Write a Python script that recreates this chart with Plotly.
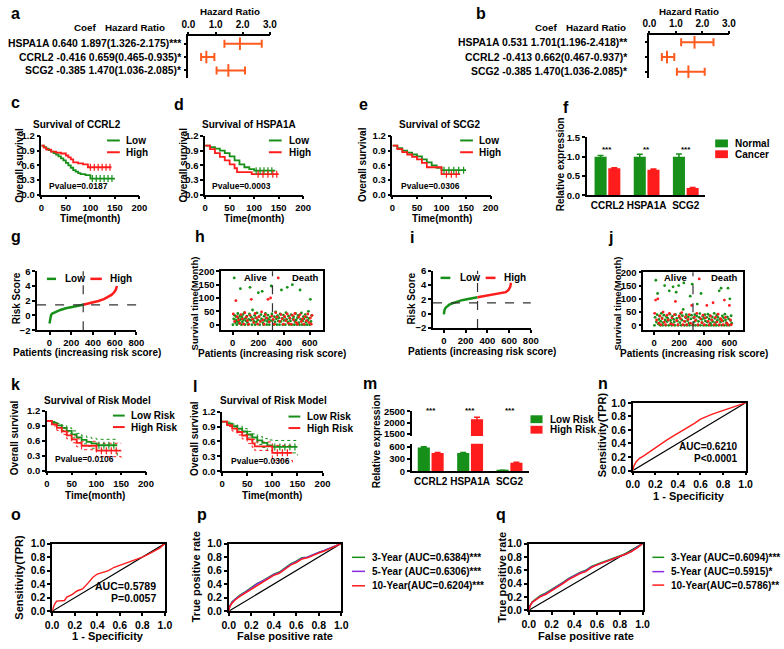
import plotly.graph_objects as go

W, H = 784, 649
FONT = "Liberation Sans, Arial, Helvetica, sans-serif"
GREEN = "#17901a"
RED = "#ff1c1c"
ORANGE = "#ff5b1f"
PURPLE = "#8a2be2"

# ---------------- data ----------------
forest_rows = [3, 2, 1]
a_hr = [1.897, 0.659, 1.470]
a_lo = [1.326, 0.465, 1.036]
a_hi = [2.70, 0.955, 2.085]
a_text = ["HSPA1A 0.640 1.897(1.326-2.175)***", "CCRL2 -0.416 0.659(0.465-0.935)*", "SCG2 -0.385 1.470(1.036-2.085)*"]
b_hr = [1.701, 0.662, 1.470]
b_lo = [1.196, 0.467, 1.036]
b_hi = [2.418, 0.937, 2.085]
b_text = ["HSPA1A 0.531 1.701(1.196-2.418)**", "CCRL2 -0.413 0.662(0.467-0.937)*", "SCG2 -0.385 1.470(1.036-2.085)*"]
hr_ticks = [0, 1, 2, 3]

km_xticks = [0, 50, 100, 150, 200]
km_yticks = [0, 0.3, 0.6, 0.9, 1.2]

c_low_t = [0, 5, 10, 15, 20, 25, 30, 35, 40, 45, 50, 55, 60, 65, 70, 75, 80, 90, 100, 150]
c_low_s = [1.0, 0.97, 0.94, 0.91, 0.88, 0.85, 0.82, 0.78, 0.74, 0.70, 0.65, 0.60, 0.55, 0.50, 0.47, 0.44, 0.42, 0.40, 0.33, 0.33]
c_high_t = [0, 5, 10, 20, 30, 40, 50, 55, 60, 65, 75, 85, 95, 143]
c_high_s = [1.0, 0.96, 0.92, 0.88, 0.86, 0.84, 0.80, 0.76, 0.72, 0.66, 0.64, 0.62, 0.56, 0.56]
c_low_cens = [(104, 0.33), (112, 0.33), (120, 0.33), (128, 0.33), (136, 0.33), (144, 0.33)]
c_high_cens = [(100, 0.56), (108, 0.56), (116, 0.56), (124, 0.56), (132, 0.56), (140, 0.56)]

d_low_t = [0, 10, 20, 30, 40, 50, 60, 70, 80, 90, 100, 143]
d_low_s = [1.0, 0.97, 0.94, 0.90, 0.85, 0.78, 0.70, 0.62, 0.56, 0.52, 0.49, 0.49]
d_high_t = [0, 10, 20, 30, 40, 50, 60, 65, 80, 95, 150]
d_high_s = [1.0, 0.93, 0.85, 0.77, 0.70, 0.62, 0.54, 0.46, 0.46, 0.42, 0.42]
d_low_cens = [(104, 0.49), (112, 0.49), (120, 0.49), (128, 0.49), (136, 0.49)]
d_high_cens = [(108, 0.42), (118, 0.42), (128, 0.42), (138, 0.42), (146, 0.42)]

e_low_t = [0, 10, 20, 30, 40, 50, 60, 70, 80, 90, 100, 150]
e_low_s = [1.0, 0.95, 0.90, 0.86, 0.82, 0.78, 0.72, 0.66, 0.60, 0.55, 0.50, 0.50]
e_high_t = [0, 10, 20, 30, 40, 50, 60, 70, 100, 138]
e_high_s = [1.0, 0.93, 0.87, 0.82, 0.77, 0.72, 0.65, 0.56, 0.42, 0.42]
e_low_cens = [(105, 0.5), (115, 0.5), (125, 0.5), (135, 0.5), (145, 0.5)]
e_high_cens = [(110, 0.42), (120, 0.42), (130, 0.42)]

expr_genes = ["CCRL2", "HSPA1A", "SCG2"]
f_normal = [1.0, 1.0, 1.0]
f_normal_err = [0.03, 0.06, 0.07]
f_cancer = [0.70, 0.66, 0.19]
f_cancer_err = [0.015, 0.02, 0.015]
f_stars = ["***", "**", "***"]

g_low = [(0, -1.1), (2, -0.8), (5, -0.4), (9, -0.1), (15, 0.1), (25, 0.25), (50, 0.45), (100, 0.75),
         (150, 0.97), (200, 1.13), (250, 1.28), (310, 1.45)]
g_high = [(310, 1.45), (350, 1.58), (400, 1.76), (450, 1.97), (500, 2.22), (540, 2.5), (570, 2.8),
          (595, 3.15), (610, 3.5), (620, 4.0)]
g_cut_x, g_cut_y = 310, 1.45
i_low = [(0, -0.1), (2, 0.2), (6, 0.5), (15, 0.8), (30, 1.05), (50, 1.25), (80, 1.45), (120, 1.68),
         (160, 1.85), (200, 1.98), (250, 2.12), (310, 2.3)]
i_high = [(310, 2.3), (350, 2.4), (400, 2.5), (450, 2.6), (500, 2.72), (540, 2.85), (570, 3.0),
          (595, 3.3), (610, 3.7), (618, 4.3)]
i_cut_x, i_cut_y = 310, 1.5
risk_xticks = [0, 200, 400, 600, 800]
risk_yticks = [-2, 0, 2, 4, 6]

h_alive = [(2,0),(8,22),(12,175),(15,35),(20,8),(24,18),(28,30),(32,0),(36,12),(40,42),(44,25),(48,5),(52,15),
           (56,33),(60,135),(64,20),(68,0),(72,28),(76,10),(80,38),(85,18),(90,45),(95,0),(100,24),(105,14),
           (110,32),(115,8),(120,0),(125,20),(130,40),(135,140),(140,16),(145,28),(150,0),(155,55),(160,22),
           (165,12),(170,35),(175,0),(180,26),(185,10),(190,44),(195,18),(200,120),(205,30),(210,0),(215,14),
           (220,38),(225,22),(230,125),(235,8),(240,0),(245,32),(250,16),(255,42),(260,24),(265,0),(270,12),
           (275,36),(280,20),(285,0),(290,28),(296,15),(300,145),(305,40),(315,18),(320,0),(325,30),(330,10),
           (335,48),(340,22),(345,0),(350,34),(355,14),(360,26),(365,0),(370,40),(375,12),(380,130),(385,24),
           (390,0),(395,36),(400,16),(405,28),(410,0),(415,45),(420,20),(425,140),(430,10),(435,32),(440,0),
           (445,24),(450,14),(455,38),(460,0),(465,150),(470,22),(475,30),(480,0),(485,12),(490,42),(495,18),
           (500,0),(505,26),(510,35),(515,8),(520,0),(525,130),(530,20),(535,44),(540,0),(545,14),(550,30),
           (555,22),(560,0),(565,38),(570,10),(575,28),(580,0),(585,16),(590,50),(595,24),(600,0),(605,95),
           (610,12),(615,34)]
h_death = [(5,40),(15,12),(25,90),(35,30),(45,18),(55,5),(65,38),(75,22),(85,2),(95,45),(105,28),(115,15),
           (125,2),(135,35),(145,95),(155,20),(165,8),(175,42),(185,25),(195,2),(205,30),(215,12),(225,48),
           (235,18),(245,2),(255,38),(265,25),(275,95),(285,10),(295,100),(305,32),(315,20),(325,2),(335,45),
           (345,28),(355,175),(365,12),(375,38),(385,22),(395,2),(405,30),(415,15),(425,40),(435,5),(445,25),
           (455,2),(465,35),(475,18),(485,42),(495,8),(505,2),(515,28),(525,38),(535,12),(545,22),(555,2),
           (565,30),(575,15),(585,40),(595,8),(605,25),(612,2),(618,35)]
j_alive = [(3,0),(8,30),(14,170),(18,12),(24,40),(28,120),(33,5),(38,22),(43,35),(48,0),(53,15),(58,45),(63,28),
           (68,0),(73,10),(78,38),(84,150),(88,20),(93,0),(98,32),(104,14),(110,26),(116,0),(121,130),(126,42),
           (131,18),(136,8),(141,0),(146,34),(151,145),(156,22),(161,12),(166,0),(171,40),(176,125),(181,26),
           (186,16),(191,0),(196,150),(201,30),(206,10),(211,44),(216,0),(221,20),(226,36),(232,60),(237,160),
           (242,0),(247,14),(252,28),(257,40),(262,0),(268,18),(273,32),(278,8),(283,0),(288,110),(293,24),
           (298,38),(304,155),(308,0),(314,28),(319,12),(324,40),(329,0),(334,20),(339,35),(344,80),(349,0),
           (354,15),(359,30),(364,44),(369,0),(374,120),(379,22),(384,10),(389,34),(394,0),(399,26),(404,40),
           (409,16),(414,0),(419,30),(424,12),(429,42),(434,0),(439,24),(444,36),(449,8),(454,0),(459,20),
           (464,32),(469,14),(474,0),(479,45),(484,26),(489,10),(494,0),(499,38),(504,18),(509,30),(514,0),
           (519,130),(524,22),(529,12),(534,140),(539,0),(544,35),(549,16),(554,28),(559,0),(564,42),(569,20),
           (574,10),(579,0),(584,32),(589,140),(594,24),(599,0),(604,100),(609,18),(614,36),(618,8)]
j_death = [(5,45),(12,95),(20,20),(30,100),(38,8),(46,35),(55,2),(64,25),(72,50),(82,12),(92,2),(102,38),
           (112,20),(122,45),(132,5),(142,28),(152,2),(162,40),(170,90),(180,18),(190,2),(200,35),(210,25),
           (220,48),(230,2),(240,15),(250,32),(260,2),(270,22),(280,40),(290,8),(300,75),(310,2),(320,30),
           (330,18),(340,45),(350,2),(360,175),(370,25),(380,10),(390,38),(400,2),(410,28),(420,75),(430,15),
           (440,2),(450,35),(460,20),(470,85),(480,2),(490,30),(500,12),(510,42),(520,2),(530,25),(540,18),
           (550,2),(560,95),(570,30),(580,8),(590,2),(600,75),(608,20),(615,2)]
surv_yticks = [0, 50, 100, 150, 200]
surv_xticks = [0, 200, 400, 600]

k_low_t = [0, 10, 20, 30, 40, 50, 60, 70, 80, 90, 100, 142]
k_low_s = [1.0, 0.96, 0.91, 0.86, 0.80, 0.73, 0.67, 0.62, 0.58, 0.55, 0.51, 0.51]
k_low_up = [1.0, 0.99, 0.95, 0.91, 0.86, 0.80, 0.75, 0.70, 0.67, 0.65, 0.63, 0.65]
k_low_dn = [1.0, 0.93, 0.87, 0.81, 0.74, 0.66, 0.59, 0.54, 0.49, 0.45, 0.41, 0.30]
k_high_t = [0, 10, 20, 30, 40, 50, 60, 70, 100, 150]
k_high_s = [1.0, 0.93, 0.86, 0.79, 0.71, 0.63, 0.56, 0.50, 0.40, 0.40]
k_high_up = [1.0, 0.96, 0.91, 0.85, 0.78, 0.70, 0.64, 0.59, 0.55, 0.55]
k_high_dn = [1.0, 0.90, 0.81, 0.73, 0.64, 0.56, 0.48, 0.42, 0.28, 0.22]
k_low_cens = [(105, 0.51), (115, 0.51), (125, 0.51), (135, 0.51)]
k_high_cens = [(110, 0.40), (120, 0.40), (130, 0.40), (140, 0.40)]

l_low_t = [0, 10, 20, 30, 40, 50, 60, 70, 80, 90, 100, 150]
l_low_s = [1.0, 0.96, 0.91, 0.86, 0.80, 0.74, 0.68, 0.62, 0.57, 0.52, 0.49, 0.49]
l_low_up = [1.0, 0.99, 0.95, 0.91, 0.86, 0.80, 0.75, 0.70, 0.66, 0.63, 0.62, 0.62]
l_low_dn = [1.0, 0.93, 0.87, 0.81, 0.74, 0.67, 0.61, 0.54, 0.48, 0.42, 0.37, 0.32]
l_high_t = [0, 10, 20, 30, 40, 50, 60, 65, 100, 140]
l_high_s = [1.0, 0.93, 0.86, 0.79, 0.72, 0.64, 0.56, 0.50, 0.37, 0.37]
l_high_up = [1.0, 0.96, 0.91, 0.85, 0.79, 0.71, 0.64, 0.59, 0.52, 0.52]
l_high_dn = [1.0, 0.90, 0.81, 0.73, 0.65, 0.56, 0.48, 0.42, 0.22, 0.15]
l_low_cens = [(105, 0.49), (115, 0.49), (125, 0.49), (135, 0.49), (145, 0.49)]
l_high_cens = [(110, 0.37), (120, 0.37), (130, 0.37)]

m_low = [590, 450, 20]
m_low_err = [15, 15, 5]
m_high = [450, 2150, 210]
m_high_err = [12, 90, 10]
m_stars = ["***", "***", "***"]

roc_ticks = [0, 0.2, 0.4, 0.6, 0.8, 1.0]
n_fpr = [0, 0.01, 0.03, 0.06, 0.1, 0.15, 0.2, 0.25, 0.3, 0.35, 0.4, 0.45, 0.5, 0.55, 0.6, 0.65, 0.7, 0.75, 0.8, 0.85, 0.9, 0.95, 1.0]
n_tpr = [0, 0.07, 0.13, 0.18, 0.22, 0.28, 0.34, 0.4, 0.45, 0.5, 0.55, 0.59, 0.64, 0.7, 0.76, 0.8, 0.83, 0.86, 0.89, 0.91, 0.94, 0.97, 1.0]
o_fpr = [0, 0.02, 0.04, 0.08, 0.11, 0.13, 0.18, 0.22, 0.27, 0.32, 0.36, 0.4, 0.45, 0.5, 0.55, 0.6, 0.65, 0.7, 0.75, 0.8, 0.85, 0.9, 0.95, 1.0]
o_tpr = [0, 0.1, 0.15, 0.16, 0.16, 0.21, 0.25, 0.3, 0.33, 0.42, 0.5, 0.55, 0.57, 0.6, 0.65, 0.68, 0.71, 0.73, 0.77, 0.8, 0.84, 0.88, 0.93, 1.0]
pq_fpr = [0, 0.01, 0.03, 0.06, 0.1, 0.15, 0.2, 0.25, 0.3, 0.35, 0.4, 0.45, 0.5, 0.55, 0.6, 0.65, 0.7, 0.75, 0.8, 0.85, 0.9, 0.95, 1.0]
p3_tpr = [0, 0.08, 0.14, 0.18, 0.24, 0.29, 0.35, 0.41, 0.45, 0.5, 0.55, 0.58, 0.64, 0.70, 0.74, 0.79, 0.80, 0.84, 0.87, 0.90, 0.93, 0.97, 1.0]
p5_tpr = [0, 0.08, 0.13, 0.18, 0.23, 0.28, 0.34, 0.40, 0.44, 0.49, 0.54, 0.57, 0.63, 0.69, 0.73, 0.78, 0.80, 0.84, 0.87, 0.90, 0.93, 0.97, 1.0]
p10_tpr = [0, 0.07, 0.12, 0.17, 0.22, 0.27, 0.33, 0.38, 0.43, 0.48, 0.53, 0.56, 0.62, 0.68, 0.72, 0.77, 0.79, 0.83, 0.86, 0.89, 0.93, 0.96, 1.0]
q3_tpr = [0, 0.07, 0.13, 0.17, 0.22, 0.26, 0.31, 0.36, 0.42, 0.48, 0.53, 0.57, 0.60, 0.66, 0.69, 0.72, 0.75, 0.78, 0.81, 0.85, 0.89, 0.94, 1.0]
q5_tpr = [0, 0.07, 0.12, 0.16, 0.21, 0.25, 0.30, 0.35, 0.41, 0.47, 0.52, 0.56, 0.59, 0.65, 0.68, 0.71, 0.74, 0.77, 0.80, 0.84, 0.88, 0.94, 1.0]
q10_tpr = [0, 0.06, 0.12, 0.16, 0.20, 0.24, 0.29, 0.34, 0.40, 0.46, 0.51, 0.55, 0.58, 0.64, 0.68, 0.71, 0.74, 0.77, 0.80, 0.84, 0.88, 0.93, 1.0]
p_labels = ["3-Year (AUC=0.6384)***", "5-Year (AUC=0.6306)***", "10-Year(AUC=0.6204)***"]
q_labels = ["3-Year (AUC=0.6094)***", "5-Year (AUC=0.5915)*", "10-Year(AUC=0.5786)**"]

# ---------------- helpers ----------------
layout = dict(width=W, height=H, margin=dict(l=0, r=0, t=0, b=0), autosize=False,
              paper_bgcolor="white", plot_bgcolor="white", showlegend=False,
              barmode="group", bargap=0.3, bargroupgap=0.12,
              font=dict(family=FONT, size=10, color="black", weight="bold"))
annotations = []
shapes = []
traces = []


def xd(l, r):
    return [l / W, r / W]


def yd(t, b):
    return [1 - b / H, 1 - t / H]


def setax(n, xdom, ydom, xkw=None, ykw=None, tick=9.5, box=False):
    s = "" if n == 1 else str(n)
    base = dict(showline=True, linecolor="black", linewidth=1.5, ticks="outside", ticklen=3,
                tickwidth=1.5, tickcolor="black", showgrid=False, zeroline=False, mirror=box,
                tickfont=dict(family=FONT, size=tick, color="black", weight="bold"))
    xa = dict(base, domain=xdom, anchor="y" + s)
    xa.update(xkw or {})
    ya = dict(base, domain=ydom, anchor="x" + s)
    ya.update(ykw or {})
    layout["xaxis" + s] = xa
    layout["yaxis" + s] = ya
    return "x" + s, "y" + s


def T(text, x, y, size=10, xa="center", ya="middle", angle=0, **kw):
    d = dict(text=text, x=x / W, y=1 - y / H, xref="paper", yref="paper", xanchor=xa, yanchor=ya,
             textangle=angle, showarrow=False,
             font=dict(family=FONT, size=size, color="black", weight="bold"))
    d.update(kw)
    annotations.append(d)


def legline(x0, x1, y, color, text, tx, size=10, width=2, dash="solid"):
    shapes.append(dict(type="line", xref="paper", yref="paper", x0=x0 / W, x1=x1 / W,
                       y0=1 - y / H, y1=1 - y / H, line=dict(color=color, width=width, dash=dash)))
    T(text, tx, y, size=size, xa="left")


def legbox(x0, x1, y, hgt, color, text, tx, size=10):
    shapes.append(dict(type="rect", xref="paper", yref="paper", x0=x0 / W, x1=x1 / W,
                       y0=1 - (y + hgt / 2) / H, y1=1 - (y - hgt / 2) / H,
                       fillcolor=color, line=dict(width=0)))
    T(text, tx, y, size=size, xa="left")


# ---------------- a / b forest ----------------
def forest(n, xdom, ydom, yrange, hr, lo, hi, texts, text_x):
    xa, ya = setax(n, xdom, ydom, tick=10,
                   xkw=dict(side="top", range=[0, 3], tickvals=hr_ticks, tickformat=".1f"),
                   ykw=dict(range=yrange, tickvals=forest_rows, showticklabels=False))
    traces.append(go.Scatter(x=hr, y=forest_rows, mode="markers", xaxis=xa, yaxis=ya, cliponaxis=False,
                             marker=dict(symbol="line-ns-open", size=9, color=ORANGE,
                                         line=dict(width=2, color=ORANGE)),
                             error_x=dict(type="data", symmetric=False,
                                          array=[h - m for h, m in zip(hi, hr)],
                                          arrayminus=[m - l for m, l in zip(hr, lo)],
                                          color=ORANGE, thickness=2, width=4)))
    for r, t in zip(forest_rows, texts):
        annotations.append(dict(text=t, x=text_x / W, xref="paper", y=r, yref=ya, xanchor="right",
                                yanchor="middle", showarrow=False,
                                font=dict(family=FONT, size=10.4, color="black", weight="bold")))


forest(1, xd(185, 268), yd(31, 73), [0.46, 3.54], a_hr, a_lo, a_hi, a_text, 180)
T("a", 2, 8, size=16, xa="left")
T("Coef", 80, 22, size=9.8)
T("Hazard Ratio", 130, 22, size=9.8)
T("Hazard Ratio", 227, 6, size=9.8)

forest(2, xd(655, 736), yd(30, 73), [0.6, 3.47], b_hr, b_lo, b_hi, b_text, 635)
T("b", 476, 8, size=16, xa="left")
T("Coef", 550, 22, size=9.8)
T("Hazard Ratio", 600, 22, size=9.8)
T("Hazard Ratio", 695, 6, size=9.8)


# ---------------- KM helper ----------------
def km_axes(n, l, r, t, b):
    return setax(n, xd(l, r), yd(t, b),
                 xkw=dict(range=[0, 200], tickvals=km_xticks),
                 ykw=dict(range=[0, 1.2], tickvals=km_yticks, tickformat=".1f"))


def km_line(xa, ya, t, s, color, width=1.8, dash="solid"):
    traces.append(go.Scatter(x=t, y=s, mode="lines", line=dict(color=color, width=width, shape="hv", dash=dash),
                             xaxis=xa, yaxis=ya))


def km_cens(xa, ya, pts, color):
    traces.append(go.Scatter(x=[p[0] for p in pts], y=[p[1] for p in pts], mode="markers", xaxis=xa, yaxis=ya,
                             marker=dict(symbol="line-ns-open", size=5, color=color, line=dict(width=1.2, color=color))))


# c
xa, ya = km_axes(3, 35, 135, 132.3, 192.3)
km_line(xa, ya, c_low_t, c_low_s, GREEN)
km_line(xa, ya, c_high_t, c_high_s, RED)
km_cens(xa, ya, c_low_cens, GREEN)
km_cens(xa, ya, c_high_cens, RED)
T("c", 2, 98, size=16, xa="left")
T("Survival of CCRL2", 71, 121)
legline(102, 115, 137, GREEN, "Low", 119)
legline(102, 115, 149, RED, "High", 119)
T("Pvalue=0.0187", 41, 183, size=8.5, xa="left")
T("Overall survival", 12, 162, angle=-90)
T("Time(month)", 85, 217)
# d
xa, ya = km_axes(4, 202, 302, 132.3, 192.3)
km_line(xa, ya, d_low_t, d_low_s, GREEN)
km_line(xa, ya, d_high_t, d_high_s, RED)
km_cens(xa, ya, d_low_cens, GREEN)
km_cens(xa, ya, d_high_cens, RED)
T("d", 168, 100, size=16, xa="left")
T("Survival of HSPA1A", 247, 121)
legline(267, 280, 137, GREEN, "Low", 285)
legline(267, 280, 149, RED, "High", 285)
T("Pvalue=0.0003", 207, 183, size=8.5, xa="left")
T("Overall survival", 179, 162, angle=-90)
T("Time(month)", 252, 217)
# e
xa, ya = km_axes(5, 393, 493, 132.3, 192.3)
km_line(xa, ya, e_low_t, e_low_s, GREEN)
km_line(xa, ya, e_high_t, e_high_s, RED)
km_cens(xa, ya, e_low_cens, GREEN)
km_cens(xa, ya, e_high_cens, RED)
T("e", 357, 100, size=16, xa="left")
T("Survival of SCG2", 441, 121)
legline(462, 475, 137, GREEN, "Low", 479)
legline(462, 475, 149, RED, "High", 479)
T("Pvalue=0.0306", 400, 183, size=8.5, xa="left")
T("Overall survival", 362, 162, angle=-90)
T("Time(month)", 443, 217)

# ---------------- f bars ----------------
catfont = dict(family=FONT, size=10, color="black", weight="bold")
xa, ya = setax(6, xd(591, 712), yd(133.7, 193),
               xkw=dict(type="category", range=[-0.53, 2.5], ticks="", tickangle=0, tickfont=catfont),
               ykw=dict(range=[0, 1.5], tickvals=[0, 0.5, 1.0, 1.5], tickformat=".1f"))
traces.append(go.Bar(x=expr_genes, y=f_normal, marker=dict(color=GREEN, line=dict(width=0)), xaxis=xa, yaxis=ya,
                     error_y=dict(type="data", array=f_normal_err, color=GREEN, thickness=1.5, width=3)))
traces.append(go.Bar(x=expr_genes, y=f_cancer, marker=dict(color=RED, line=dict(width=0)), xaxis=xa, yaxis=ya,
                     error_y=dict(type="data", array=f_cancer_err, color=RED, thickness=1.5, width=3)))
for g, st in zip(expr_genes, f_stars):
    annotations.append(dict(text=st, x=g, xref=xa, y=1 - 140 / H, yref="paper", showarrow=False,
                            font=dict(family=FONT, size=8, color="black", weight="bold")))
T("f", 565, 103, size=16, xa="left")
T("Relative expression", 564, 161, angle=-90)
legbox(722, 735, 140, 8, GREEN, "Normal", 740)
legbox(722, 735, 151, 8, RED, "Cancer", 740)


# ---------------- g / i risk score ----------------
def risk(n, l, r, t, b, low, high, cx, cy, xr):
    xa, ya = setax(n, xd(l, r), yd(t, b),
                   xkw=dict(range=xr, tickvals=risk_xticks),
                   ykw=dict(range=[-2, 6], tickvals=risk_yticks))
    traces.append(go.Scatter(x=[p[0] for p in low], y=[p[1] for p in low], mode="lines",
                             line=dict(color=GREEN, width=2.5), xaxis=xa, yaxis=ya))
    traces.append(go.Scatter(x=[p[0] for p in high], y=[p[1] for p in high], mode="lines",
                             line=dict(color=RED, width=2.5), xaxis=xa, yaxis=ya))
    shapes.append(dict(type="line", xref=xa + " domain", x0=0, x1=1, yref=ya, y0=cy, y1=cy,
                       line=dict(color="#333", width=1.2, dash="dash")))
    shapes.append(dict(type="line", xref=xa, x0=cx, x1=cx, yref=ya + " domain", y0=0, y1=1,
                       line=dict(color="#333", width=1.2, dash="dash")))


risk(7, 30.7, 132, 270.3, 330.3, g_low, g_high, g_cut_x, g_cut_y, [-114, 800])
T("g", 2, 235, size=16, xa="left")
legline(40.7, 50, 278, GREEN, "Low", 57, width=2.5)
legline(85, 96.7, 278, RED, "High", 102.7, width=2.5)
T("Risk Score", 10, 298, angle=-90)
T("Patients (increasing risk score)", 82, 353.5)

risk(9, 434.3, 534, 269.7, 328, i_low, i_high, i_cut_x, i_cut_y, [-100, 800])
T("i", 409, 236, size=16, xa="left")
legline(442, 452, 277, GREEN, "Low", 460, width=2.5)
legline(488, 498, 277, RED, "High", 504.7, width=2.5)
T("Risk Score", 412, 298, angle=-90)
T("Patients (increasing risk score)", 484, 352)


# ---------------- h / j survival status ----------------
def status(n, l, r, t, b, alive, death, cut, xr, yr):
    xa, ya = setax(n, xd(l, r), yd(t, b), box=True,
                   xkw=dict(range=xr, tickvals=surv_xticks),
                   ykw=dict(range=yr, tickvals=surv_yticks))
    traces.append(go.Scatter(x=[p[0] for p in alive], y=[p[1] for p in alive], mode="markers",
                             marker=dict(color=GREEN, size=2.8), xaxis=xa, yaxis=ya))
    traces.append(go.Scatter(x=[p[0] for p in death], y=[p[1] for p in death], mode="markers",
                             marker=dict(color=RED, size=2.8), xaxis=xa, yaxis=ya))
    shapes.append(dict(type="line", xref=xa, x0=cut, x1=cut, yref=ya + " domain", y0=0, y1=1,
                       line=dict(color="#333", width=1.2, dash="dash")))


status(8, 218.3, 321.7, 270.3, 330.3, h_alive, h_death, 310, [-90, 700], [-20.6, 200])
T("h", 190, 235, size=16, xa="left")
T("Alive", 253, 277, size=9.5)
T("Death", 304, 277, size=9.5)
T("Survival time(Month)", 190.7, 303, size=9.5, angle=-90)
T("Patients (increasing risk score)", 270, 354)

status(10, 648.7, 750.3, 271.3, 330.3, j_alive, j_death, 310, [-86, 708], [-18.5, 200])
T("j", 611, 236, size=16, xa="left")
T("Alive", 682, 277, size=9.5)
T("Death", 732, 277, size=9.5)
T("Survival time(Month)", 622, 303, size=9.5, angle=-90)
T("Patients (increasing risk score)", 700, 354)

# ---------------- k / l risk model KM ----------------
xa, ya = km_axes(11, 40.7, 141.7, 412.7, 473.3)
km_line(xa, ya, k_low_t, k_low_up, GREEN, 1, "dot")
km_line(xa, ya, k_low_t, k_low_dn, GREEN, 1, "dot")
km_line(xa, ya, k_high_t, k_high_up, RED, 1, "dot")
km_line(xa, ya, k_high_t, k_high_dn, RED, 1, "dot")
km_line(xa, ya, k_low_t, k_low_s, GREEN)
km_line(xa, ya, k_high_t, k_high_s, RED)
km_cens(xa, ya, k_low_cens, GREEN)
km_cens(xa, ya, k_high_cens, RED)
T("k", 2, 386, size=16, xa="left")
T("Survival of Risk Model", 92, 401.7)
legline(108, 120, 417.3, GREEN, "Low Risk", 124)
legline(108, 120, 429, RED, "High Risk", 124)
T("Pvalue=0.0106", 46.7, 461.7, size=8.5, xa="left")
T("Overall survival", 8.5, 440, angle=-90)
T("Time(month)", 90, 498.5)

xa, ya = km_axes(12, 219.3, 321.7, 413.3, 474)
km_line(xa, ya, l_low_t, l_low_up, GREEN, 1, "dot")
km_line(xa, ya, l_low_t, l_low_dn, GREEN, 1, "dot")
km_line(xa, ya, l_high_t, l_high_up, RED, 1, "dot")
km_line(xa, ya, l_high_t, l_high_dn, RED, 1, "dot")
km_line(xa, ya, l_low_t, l_low_s, GREEN)
km_line(xa, ya, l_high_t, l_high_s, RED)
km_cens(xa, ya, l_low_cens, GREEN)
km_cens(xa, ya, l_high_cens, RED)
T("l", 188, 388, size=16, xa="left")
T("Survival of Risk Model", 272, 402)
legline(287, 299, 418.3, GREEN, "Low Risk", 304)
legline(287, 299, 430, RED, "High Risk", 304)
T("Pvalue=0.0306", 226.7, 464, size=8.5, xa="left")
T("Overall survival", 191.7, 441, angle=-90)
T("Time(month)", 270, 499)

# ---------------- m broken-axis bars ----------------
xa_b, ya_b = setax(13, xd(412.7, 532), yd(446, 474),
                   xkw=dict(type="category", range=[-0.48, 2.49], ticks="", tickangle=0, tickfont=catfont),
                   ykw=dict(range=[0, 680], tickvals=[0, 300, 600]))
xa_t, ya_t = setax(14, xd(412.7, 532), yd(413, 438),
                   xkw=dict(type="category", range=[-0.48, 2.49], ticks="", showline=False,
                            showticklabels=False),
                   ykw=dict(range=[1400, 2500], tickvals=[1500, 2000, 2500]))
for xa, ya in ((xa_b, ya_b), (xa_t, ya_t)):
    traces.append(go.Bar(x=expr_genes, y=m_low, marker=dict(color=GREEN, line=dict(width=0)), xaxis=xa, yaxis=ya,
                         error_y=dict(type="data", array=m_low_err, color=GREEN, thickness=1.5, width=3)))
    traces.append(go.Bar(x=expr_genes, y=m_high, marker=dict(color=RED, line=dict(width=0)), xaxis=xa, yaxis=ya,
                         error_y=dict(type="data", array=m_high_err, color=RED, thickness=1.5, width=3)))
for g, st in zip(expr_genes, m_stars):
    annotations.append(dict(text=st, x=g, xref=xa_b, y=1 - 412.3 / H, yref="paper", showarrow=False,
                            font=dict(family=FONT, size=8, color="black", weight="bold")))
T("m", 361, 385, size=16, xa="left")
T("Relative expression", 376.7, 443, angle=-90)
legbox(533.7, 546, 421, 8, GREEN, "Low Risk", 551.3)
legbox(533.7, 546, 431.7, 8, RED, "High Risk", 551.3)


# ---------------- ROC panels ----------------
def roc_axes(n, l, r, t, b):
    xa, ya = setax(n, xd(l, r), yd(t, b), box=True, tick=10.5,
                   xkw=dict(range=[0, 1], tickvals=roc_ticks, tickformat=".1f"),
                   ykw=dict(range=[0, 1], tickvals=roc_ticks, tickformat=".1f"))
    traces.append(go.Scatter(x=[0, 1], y=[0, 1], mode="lines", line=dict(color="black", width=1.2),
                             xaxis=xa, yaxis=ya))
    return xa, ya


xa, ya = roc_axes(15, 638, 753, 404.3, 473.3)
traces.append(go.Scatter(x=n_fpr, y=n_tpr, mode="lines", line=dict(color=RED, width=1.4), xaxis=xa, yaxis=ya))
T("n", 600, 385, size=16, xa="left")
T("AUC=0.6210", 747, 449, size=10, xa="right")
T("P<0.0001", 747, 461.5, size=10, xa="right")
T("Sensitivity(TPR)", 607, 437, size=11, angle=-90)
T("1 - Specificity", 695, 499, size=11)

xa, ya = roc_axes(16, 46, 161, 547.7, 616.7)
traces.append(go.Scatter(x=o_fpr, y=o_tpr, mode="lines", line=dict(color=RED, width=1.4), xaxis=xa, yaxis=ya))
T("o", 2, 518, size=16, xa="left")
T("AUC=0.5789", 154, 590.7, size=10.5, xa="right")
T("P=0.0057", 154, 603.3, size=10.5, xa="right")
T("Sensitivity(TPR)", 12.7, 582, size=11, angle=-90)
T("1 - Specificity", 103, 641.7, size=11)

xa, ya = roc_axes(17, 226, 340.7, 547.7, 616.7)
for tpr, col in ((p3_tpr, GREEN), (p5_tpr, PURPLE), (p10_tpr, RED)):
    traces.append(go.Scatter(x=pq_fpr, y=tpr, mode="lines", line=dict(color=col, width=1.4), xaxis=xa, yaxis=ya))
T("p", 192, 518, size=16, xa="left")
for lab, col, yy in zip(p_labels, (GREEN, PURPLE, RED), (561.7, 576, 590.7)):
    legline(351.7, 365, yy, col, lab, 370, size=10, width=1.5)
T("True positive rate", 192.7, 582, size=11, angle=-90)
T("False positive rate", 283, 641.7, size=11)

xa, ya = roc_axes(18, 532, 648, 547.7, 615.7)
for tpr, col in ((q3_tpr, GREEN), (q5_tpr, PURPLE), (q10_tpr, RED)):
    traces.append(go.Scatter(x=pq_fpr, y=tpr, mode="lines", line=dict(color=col, width=1.4), xaxis=xa, yaxis=ya))
T("q", 497, 518, size=16, xa="left")
for lab, col, yy in zip(q_labels, (GREEN, PURPLE, RED), (561.7, 576.3, 590)):
    legline(658, 670, yy, col, lab, 675.3, size=10, width=1.5)
T("True positive rate", 505.3, 582, size=11, angle=-90)
T("False positive rate", 590.3, 641.7, size=11)

layout["annotations"] = annotations
layout["shapes"] = shapes
fig = go.Figure(data=traces, layout=layout)
fig.write_html("out.html", config={"displayModeBar": False},
               post_script="document.body.style.margin='0px';document.body.style.overflow='hidden';")
